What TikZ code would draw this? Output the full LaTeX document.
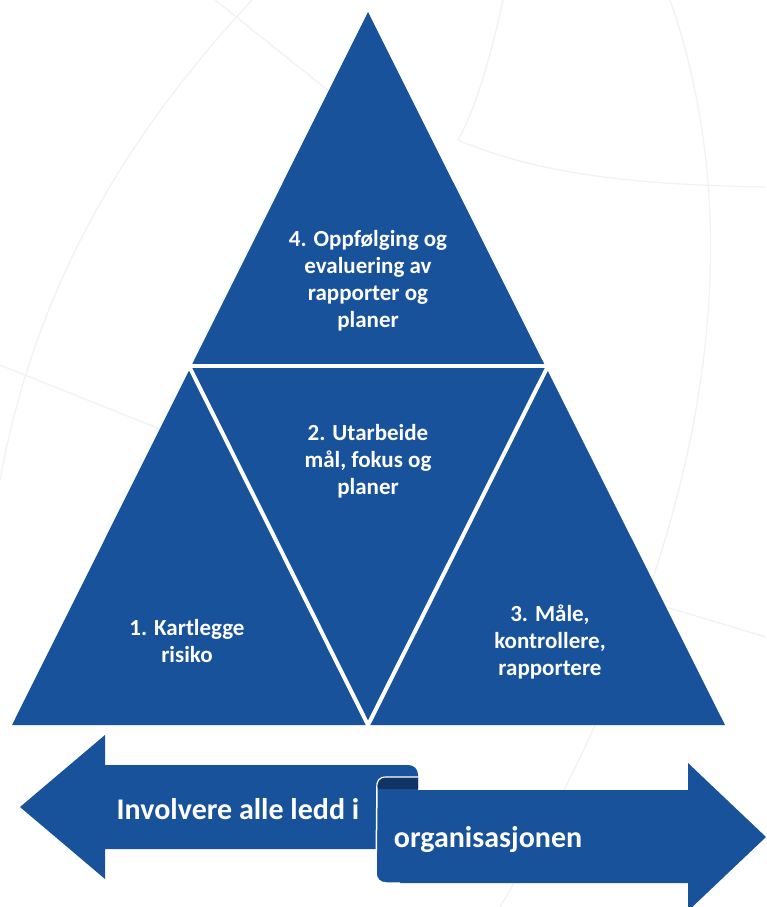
\documentclass[tikz,border=0pt]{standalone}
\usepackage{fontspec}
\setmainfont{Carlito}
\definecolor{pyrblue}{RGB}{24,82,154}
\definecolor{curlblue}{RGB}{16,52,100}
\definecolor{faint}{RGB}{242,242,242}
\begin{document}
\begin{tikzpicture}[x=1pt,y=-1pt,
  lbl/.style={text=white, font=\bfseries\fontsize{23}{27}\selectfont, align=center, inner sep=0pt},
  arrlbl/.style={text=white, font=\bfseries\fontsize{30}{34}\selectfont, inner sep=0pt, anchor=base},
  sep/.style={white, line width=4pt},
  bgline/.style={faint, line width=1.3pt}]
\useasboundingbox (0,0) rectangle (766,907);
% faint background arcs
\draw[bgline] (252,0) .. controls (150,110) and (40,260) .. (0,480);
\draw[bgline] (215,0) -- (340,100);
\draw[bgline] (0,365) -- (200,445);
\draw[bgline] (503,0) .. controls (490,60) and (475,110) .. (458,140);
\draw[bgline] (458,140) .. controls (540,175) and (640,185) .. (766,187);
\draw[bgline] (670,0) .. controls (740,200) and (740,500) .. (500,907);
\draw[bgline] (666,607) -- (766,637);
% pyramid
\coordinate (A) at (368,12);
\coordinate (BL) at (12,725);
\coordinate (BR) at (725,725);
\coordinate (ML) at (190,368);
\coordinate (MR) at (547,368);
\coordinate (MB) at (368,725);
\fill[pyrblue] (A) -- (BR) -- (BL) -- cycle;
\draw[sep] (184,366) -- (553,366);
\draw[sep] (ML) -- (MB) -- (MR);
% labels
\node[lbl] (t4) at (368,281) {4. Oppfølging og\\evaluering av\\rapporter og\\planer};
\node[lbl] (t2) at (368,461) {2. Utarbeide\\mål, fokus og\\planer};
\node[lbl] (t1) at (187,641) {1. Kartlegge\\risiko};
\node[lbl] (t3) at (550,642) {3. Måle,\\kontrollere,\\rapportere};
% left arrow
\fill[pyrblue] (20,807) -- (105,735) -- (105,765) -- (408,765)
  .. controls (414,765) and (418,769) .. (418,775) -- (418,849) -- (105,849) -- (105,879) -- cycle;
% right ribbon arrow
\fill[pyrblue] (380,790) -- (688,790) -- (688,763) -- (766,837) -- (688,911) -- (688,883)
  -- (386,883) .. controls (380,883) and (376,879) .. (376,873) -- (376,794)
  .. controls (376,792) and (378,790) .. (380,790) -- cycle;
\draw[white, line width=1.5pt] (377,786) -- (376,873) .. controls (376,879) and (380,883) .. (386,883) -- (400,883);
% curl of the scroll
\fill[curlblue] (418,777) -- (386,777) .. controls (379,777) and (376,781) .. (377,789) -- (418,789) -- cycle;
\draw[white, line width=1.2pt] (418,777) -- (386,777) .. controls (379,777) and (376,781) .. (377,789);
\node[arrlbl] (inv) at (238,819) {Involvere alle ledd i};
\node[arrlbl] (org) at (488,847) {organisasjonen};
\end{tikzpicture}
\end{document}
